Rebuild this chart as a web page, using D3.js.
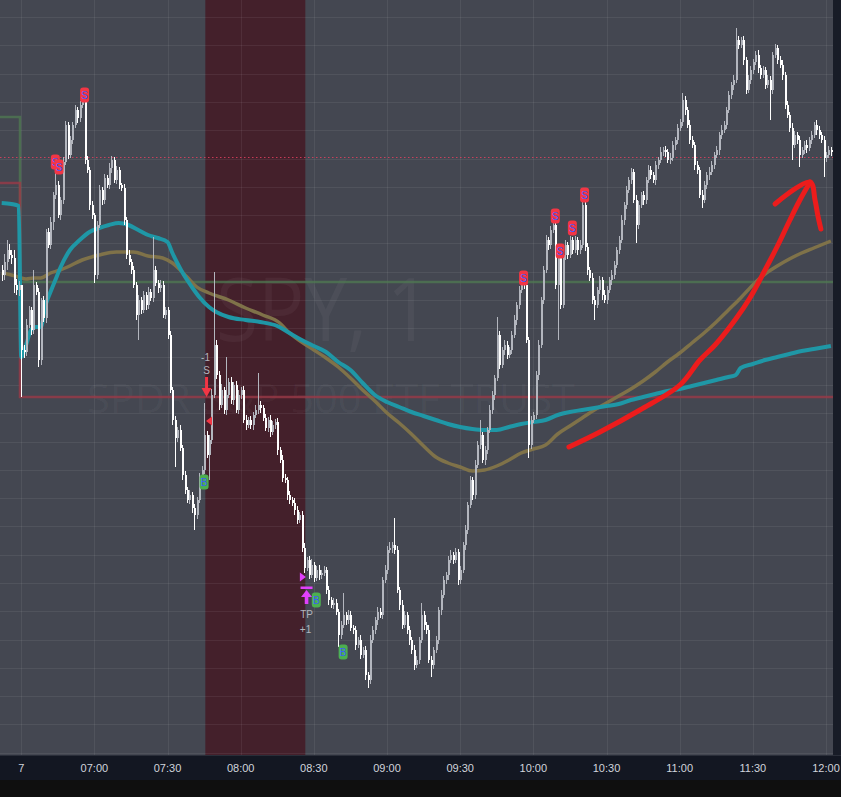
<!DOCTYPE html>
<html><head><meta charset="utf-8">
<script src="https://cdn.jsdelivr.net/npm/d3@7"></script>
<style>html,body{margin:0;padding:0;background:#0f0f0f;}svg{display:block;}</style>
</head><body><svg id="c" width="841" height="797"></svg>
<script>
// ---------- DATA (SPY, 1 minute; index 0 = 06:30 session open) ----------
const firstIndex = -8;
const firstOpen = 417.30;
const closes = [
417.25,417.38,417.50,417.45,417.42,417.15,417.10,417.15,
416.50,416.48,416.75,416.90,416.70,417.15,417.08,416.40,417.00,416.82,
417.68,417.55,417.78,418.05,418.15,417.85,418.00,418.38,418.75,418.45,
418.60,418.75,418.90,418.82,418.95,418.98,418.40,418.30,417.95,417.85,
417.25,417.75,418.10,418.00,418.22,418.15,418.32,418.40,418.20,418.30,
418.15,418.12,417.80,417.45,417.38,417.30,417.15,416.85,417.00,416.90,
417.05,416.95,417.08,417.02,417.30,417.17,417.12,417.15,416.85,416.90,
416.65,416.10,415.80,415.62,415.70,415.52,415.25,415.10,415.00,415.05,
414.92,414.85,415.00,415.22,415.30,415.65,415.45,415.60,416.05,416.55,
416.25,415.95,416.10,415.90,416.05,416.18,416.00,416.15,415.90,416.05,
416.10,415.80,415.75,415.80,415.75,415.85,415.90,415.95,415.92,415.82,
415.72,415.80,415.68,415.75,415.78,415.50,415.40,415.22,415.20,415.05,
415.00,414.97,414.90,414.80,414.85,414.52,414.32,414.40,414.25,414.35,
414.22,414.30,414.25,414.27,414.30,414.10,414.00,413.95,413.97,413.88,
413.65,413.75,413.85,413.80,413.85,413.72,413.70,413.55,413.60,413.45,
413.50,413.25,413.20,413.60,413.70,413.80,413.88,413.85,414.20,414.30,
414.50,414.52,414.55,414.50,414.10,413.95,413.75,413.85,413.70,413.60,
413.50,413.35,413.40,413.60,413.85,413.75,413.70,413.40,413.35,413.50,
413.60,413.90,414.05,414.20,414.25,414.40,414.45,414.40,414.48,414.20,
414.30,414.55,414.70,414.95,415.20,415.05,415.35,415.55,415.65,415.40,
415.50,415.70,415.90,416.05,416.22,416.65,416.35,416.50,416.55,416.45,
416.50,416.65,416.80,416.95,417.10,417.20,417.15,416.60,415.55,415.80,
415.85,416.25,416.55,417.00,417.30,417.60,417.55,417.70,417.75,417.15,
417.42,416.95,417.45,417.55,417.45,417.60,417.50,417.60,417.50,417.55,
417.95,417.53,417.30,417.22,417.00,416.95,417.10,417.20,417.05,417.00,
417.10,417.20,417.25,417.35,417.50,417.60,417.80,417.95,418.10,418.20,
418.28,418.00,417.75,417.95,418.05,418.00,418.20,418.30,418.25,418.20,
418.35,418.40,418.48,418.50,418.48,418.40,418.42,418.55,418.60,418.72,
418.78,419.00,418.90,418.75,418.60,418.55,418.35,418.30,418.05,418.00,
418.15,418.25,418.28,418.35,418.45,418.50,418.65,418.70,418.75,418.90,
419.05,419.15,419.20,419.60,419.55,419.60,419.40,419.10,419.20,419.30,
419.38,419.45,419.32,419.25,419.30,419.15,419.20,419.10,419.45,419.52,
419.40,419.35,419.25,418.95,418.85,418.72,418.55,418.65,418.60,418.45,
418.50,418.55,418.52,418.60,418.65,418.75,418.70,418.65,418.60,418.42,
418.45,418.50,418.48
];
// wick lengths beyond the body, in cents
const wickHi = [
5,8,10,6,5,8,6,4,
0,5,6,4,3,15,3,4,2,4, 3,4,5,3,18,4,3,5,4,3, 4,3,5,3,4,3,6,4,3,4, 2,4,5,3,4,3,5,4,3,4,
3,2,4,3,5,3,4,3,5,3, 4,3,5,3,33,4,3,5,4,3, 3,4,3,4,3,5,3,4,3,5, 3,4,3,5,4,32,4,5,6,73,
5,4,6,3,38,4,5,3,4,5, 3,4,5,3,4,3,5,32,4,3, 4,3,5,4,3,4,3,5,4,3, 4,3,5,4,3,4,5,3,4,6,
3,4,5,3,4,3,4,3,5,4, 3,4,22,3,5,4,3,4,3,5, 3,4,3,5,4,3,5,4,3,5, 4,6,3,27,4,3,5,4,3,4,
3,5,4,3,12,4,3,5,4,3, 4,3,5,4,3,4,5,3,4,3, 4,3,5,3,4,3,5,4,15,3, 4,3,5,4,3,18,4,3,5,4,
3,4,5,3,4,3,5,4,3,4, 3,4,5,3,4,5,3,4,7,4, 3,3,4,5,3,4,3,4,3,5, 5,3,4,3,5,4,3,4,3,5,
4,3,5,4,3,4,5,3,4,3, 4,3,5,4,3,4,3,5,4,3, 4,3,5,3,4,3,5,4,3,4, 3,7,4,3,5,4,3,4,3,5,
4,3,5,4,3,4,3,5,4,3, 4,3,5,12,4,3,4,3,5,4, 3,4,5,3,4,3,5,4,3,4, 3,4,5,3,4,3,5,4,3,4,
3,4,5,3,4,3,5,4,3,4, 3,4,3
];
const wickLo = [
6,5,8,4,6,8,5,6,
47,6,4,3,5,4,3,7,5,4, 5,3,4,8,4,3,5,4,3,4, 3,4,3,5,4,3,4,3,5,4, 8,4,3,5,4,3,4,5,3,4,
4,3,5,4,3,4,3,5,25,4, 3,5,4,3,4,3,5,4,3,4, 4,3,5,29,4,3,5,4,3,4, 5,15,4,3,5,4,3,25,4,3,
4,5,3,4,5,3,4,5,3,4, 4,3,5,3,4,5,3,4,5,3, 3,4,5,3,4,5,3,4,3,5, 4,3,5,4,3,4,5,3,4,3,
4,3,5,4,3,4,5,3,4,3, 12,4,3,5,4,3,4,5,3,4, 3,5,8,4,3,4,5,3,4,3, 4,3,5,4,3,5,4,3,4,5,
4,5,3,4,3,5,4,3,12,4, 3,4,5,3,4,5,3,4,3,5, 4,3,5,4,3,5,4,3,4,3, 5,4,3,4,5,3,4,3,5,4,
3,4,3,5,4,3,4,3,13,4, 3,4,5,3,4,3,5,4,3,4, 55,4,3,5,4,3,4,3,5,4, 3,4,5,3,4,15,3,4,5,3,
4,3,5,4,3,4,3,5,4,3, 4,3,18,4,3,5,4,3,4,3, 5,4,3,4,5,3,4,3,5,4, 3,4,5,3,4,3,5,4,3,8,
3,4,5,3,4,3,5,4,3,4, 3,4,5,3,4,3,5,4,3,4, 4,3,5,4,3,4,3,30,4,3, 4,3,5,4,3,4,15,3,4,12,
3,4,5,3,4,3,5,4,3,19, 4,3,4
];
const tickIdx = [0,30,60,90,120,150,180,210,240,270,300,330];
const tickLabels = ["7","07:00","07:30","08:00","08:30","09:00","09:30","10:00","10:30","11:00","11:30","12:00"];

// teal (session VWAP) and olive (moving average)
const vwapIdx = [-8,-4,-1,0,2,4,6,8,10,12,14,16,20,24,28,32,36,40,44,48,52,56,60,62,64,66,70,73,77,80,85,92,98,105,110,115,120,125,130,135,140,145,150,155,160,165,170,175,180,185,190,195,200,205,210,215,220,225,230,235,240,245,250,255,260,265,270,275,280,285,290,293,295,300,305,310,315,320,325,332];
const vwap = [417.97,417.96,417.94,416.43,416.55,416.70,416.73,416.73,416.95,417.08,417.20,417.32,417.50,417.60,417.68,417.72,417.75,417.77,417.75,417.70,417.65,417.62,417.58,417.47,417.37,417.28,417.13,417.03,416.93,416.88,416.83,416.80,416.78,416.74,416.67,416.60,416.54,416.48,416.38,416.30,416.17,416.05,415.98,415.93,415.88,415.84,415.80,415.76,415.73,415.71,415.70,415.70,415.73,415.76,415.78,415.80,415.85,415.88,415.90,415.92,415.94,415.96,416.00,416.03,416.06,416.09,416.11,416.14,416.17,416.20,416.23,416.25,416.32,416.36,416.40,416.43,416.46,416.49,416.51,416.54];
const maIdx = [-8,-4,-1,2,5,8,12,16,19,25,32,39,46,52,58,62,68,72,77,85,92,99,106,110,115,120,125,130,135,140,145,150,155,160,165,170,175,180,185,190,195,200,205,210,215,220,225,230,235,240,245,250,255,260,265,270,275,280,285,290,295,300,305,310,315,320,325,332];
const ma = [417.27,417.25,417.23,417.21,417.22,417.22,417.27,417.30,417.33,417.40,417.45,417.48,417.48,417.44,417.42,417.37,417.23,417.13,417.07,417.00,416.92,416.85,416.77,416.67,416.58,416.50,416.42,416.33,416.22,416.10,415.99,415.87,415.77,415.66,415.54,415.43,415.37,415.33,415.29,415.30,415.34,415.40,415.47,415.51,415.55,415.66,415.74,415.82,415.90,415.97,416.04,416.11,416.19,416.28,416.38,416.47,416.57,416.67,416.78,416.90,417.02,417.15,417.26,417.34,417.41,417.47,417.52,417.59];

// horizontal levels (previous day -> today)
const greenLevel = [418.83, 417.18];
const redLevel = [418.17, 416.03];
const dottedLevel = 418.43;
// highlighted bar range
const shadeRange = [76, 116];

// signal markers
const sellIdx = [14, 15.5, 26, 206, 219, 221, 226, 231];
const sellPos = [418.38, 418.33, 419.05, 417.22, 417.84, 417.49, 417.72, 418.05];
const buyIdx = [75, 121, 132];
const buyPos = [415.18, 414.00, 413.48];

// trade annotations
const entryIdx = 76, entryTextPos = [416.43, 416.30], entryArrow = [416.23, 416.03];
const entryTriIdx = 77, entryTriPos = 415.79;
const exitIdx = 117, exitBarPos = 414.12, exitTextPos = [413.86, 413.71];
const exitTriIdx = 115.5, exitTriPos = 414.23;

// hand-drawn red arrow (index, price)
const arrowIdx = [224.6,237.3,253.7,270.1,278.3,284.5,292.7,298.8,305.0,310.3,315.2,319.3,323.5];
const arrowPrice = [415.53,415.68,415.90,416.15,416.40,416.55,416.80,417.02,417.30,417.55,417.80,418.00,418.18];
const headIdx = [309.1,323.5,325.5,326.7,327.9];
const headPrice = [417.96,418.18,418.00,417.84,417.71];

// ---------- DRAW ----------
const W = 841, PR = 833, PB = 755, AB = 780;
const svg = d3.select('#c');
const x = d3.scaleLinear().domain([0, 330]).range([21.2, 826.0]);
const y = d3.scaleLinear().domain([412.45, 420]).range([PB, 0]);

svg.append('rect').attr('width', W).attr('height', 797).attr('fill', '#0f0f0f');
svg.append('rect').attr('width', PR).attr('height', PB).attr('fill', '#444751');
svg.append('rect').attr('x', PR).attr('width', W - PR).attr('height', PB).attr('fill', '#181c27');
svg.append('rect').attr('y', PB).attr('width', W).attr('height', AB - PB).attr('fill', '#131722');
svg.append('line').attr('x1', 0).attr('x2', W).attr('y1', PB + 0.5).attr('y2', PB + 0.5).attr('stroke', '#2a2e39');

svg.append('defs').append('clipPath').attr('id', 'clip').append('rect').attr('width', PR).attr('height', PB);
const g = svg.append('g').attr('clip-path', 'url(#clip)');

// shaded bars
g.append('rect').attr('x', x(shadeRange[0] - 0.5)).attr('y', 0)
  .attr('width', x(shadeRange[1] + 0.5) - x(shadeRange[0] - 0.5)).attr('height', PB)
  .attr('fill', '#44202b');

// grid
const gridVals = d3.range(0, 28).map(k => 419.83 - 0.283 * k);
g.selectAll('.hg').data(gridVals).enter().append('line')
  .attr('x1', 0).attr('x2', PR).attr('y1', d => Math.round(y(d)) + 0.5).attr('y2', d => Math.round(y(d)) + 0.5)
  .attr('stroke', 'rgba(255,255,255,0.065)');
g.selectAll('.vg').data(tickIdx).enter().append('line')
  .attr('y1', 0).attr('y2', PB).attr('x1', d => Math.round(x(d)) + 0.5).attr('x2', d => Math.round(x(d)) + 0.5)
  .attr('stroke', 'rgba(255,255,255,0.065)');

// watermark
g.append('text').text('SPY, 1').attr('x', 216).attr('y', 341)
  .attr('textLength', 215).attr('lengthAdjust', 'spacingAndGlyphs')
  .attr('font-family', 'Open Sans, sans-serif').attr('font-size', 88)
  .attr('fill', 'rgba(255,255,255,0.045)');
g.append('text').text('SPDR S&P 500 ETF TRUST').attr('x', 87).attr('y', 413)
  .attr('textLength', 488).attr('lengthAdjust', 'spacingAndGlyphs')
  .attr('font-family', 'Open Sans, sans-serif').attr('font-size', 41)
  .attr('fill', 'rgba(255,255,255,0.045)');

// level step lines
function stepLine(v) {
  return [[firstIndex - 1, v[0]], [-0.5, v[0]], [-0.5, v[1]], [335, v[1]]];
}
const ln = d3.line().x(d => x(d[0])).y(d => y(d[1]));
g.append('path').attr('d', ln(stepLine(greenLevel))).attr('fill', 'none')
  .attr('stroke', '#4f7a52').attr('stroke-opacity', 0.75).attr('stroke-width', 2.5);
g.append('path').attr('d', ln(stepLine(redLevel))).attr('fill', 'none')
  .attr('stroke', '#9a3a47').attr('stroke-opacity', 0.8).attr('stroke-width', 2.5);
g.append('line').attr('x1', 0).attr('x2', PR)
  .attr('y1', Math.round(y(dottedLevel)) + 0.5).attr('y2', Math.round(y(dottedLevel)) + 0.5)
  .attr('stroke', '#e0405f').attr('stroke-opacity', 0.85).attr('stroke-width', 1).attr('stroke-dasharray', '1.5,2.5');

// indicator lines
const curve = d3.line().x(d => x(d[0])).y(d => y(d[1])).curve(d3.curveMonotoneX);
g.append('path').attr('d', curve(maIdx.map((d, i) => [d, ma[i]]))).attr('fill', 'none')
  .attr('stroke', '#7f7249').attr('stroke-width', 3.5).attr('stroke-linejoin', 'round');
g.append('path').attr('d', curve(vwapIdx.map((d, i) => [d, vwap[i]]))).attr('fill', 'none')
  .attr('stroke', '#1f97a6').attr('stroke-width', 4).attr('stroke-linejoin', 'round');

// candles
const candles = closes.map((c, k) => {
  const o = k === 0 ? firstOpen : closes[k - 1];
  return { i: firstIndex + k, o, c, h: Math.max(o, c) + wickHi[k] / 100, l: Math.min(o, c) - wickLo[k] / 100 };
});
const upCol = '#b3b6be', dnCol = '#ffffff';
const cg = g.append('g').attr('shape-rendering', 'crispEdges');
cg.selectAll('.w').data(candles).enter().append('rect')
  .attr('x', d => Math.round(x(d.i)))
  .attr('width', 1)
  .attr('y', d => y(d.h)).attr('height', d => y(d.l) - y(d.h))
  .attr('fill', d => d.c < d.o ? dnCol : upCol);
cg.selectAll('.b').data(candles).enter().append('rect')
  .attr('x', d => Math.round(x(d.i)) - 0.5)
  .attr('width', 2.2)
  .attr('y', d => y(Math.max(d.o, d.c)))
  .attr('height', d => Math.max(1.2, Math.abs(y(d.o) - y(d.c))))
  .attr('fill', d => d.c < d.o ? dnCol : upCol);

// markers
function marker(idx, pos, fill, label) {
  const mg = g.append('g');
  idx.forEach((d, k) => {
    mg.append('rect').attr('x', x(d) - 4.5).attr('y', y(pos[k]) - 7.5).attr('width', 9).attr('height', 15)
      .attr('rx', 3).attr('fill', fill);
    mg.append('text').text(label).attr('x', x(d)).attr('y', y(pos[k]) + 3.5)
      .attr('text-anchor', 'middle').attr('font-family', 'Liberation Sans, sans-serif')
      .attr('font-size', 10).attr('fill', '#3d5afe');
  });
}
marker(sellIdx, sellPos, '#f23645', 'S');
marker(buyIdx, buyPos, '#4caf50', 'B');

// trade annotations
const ann = g.append('g').attr('font-family', 'Liberation Sans, sans-serif').attr('font-size', 10).attr('fill', '#b2b5be').attr('text-anchor', 'middle');
const ex = x(entryIdx);
ann.append('text').text('-1').attr('x', ex - 1).attr('y', y(entryTextPos[0]) + 3.5);
ann.append('text').text('S').attr('x', ex).attr('y', y(entryTextPos[1]) + 3.5);
const a0 = y(entryArrow[0]), a1 = y(entryArrow[1]);
g.append('path').attr('d', `M${ex - 1.5},${a0}H${ex + 1.5}V${a1 - 9}H${ex + 5}L${ex},${a1}L${ex - 5},${a1 - 9}H${ex - 1.5}Z`)
  .attr('fill', '#f23645');
const tx = x(entryTriIdx), ty = y(entryTriPos);
g.append('path').attr('d', `M${tx - 3},${ty}L${tx + 3},${ty - 4.5}L${tx + 3},${ty + 4.5}Z`).attr('fill', '#f23645');

const px = x(exitIdx), pb = y(exitBarPos);
g.append('rect').attr('x', px - 6).attr('y', pb - 1.5).attr('width', 12).attr('height', 2.5).attr('fill', '#e040fb');
g.append('path').attr('d', `M${px},${pb + 2}L${px + 5.5},${pb + 9}H${px + 1.8}V${pb + 16}H${px - 1.8}V${pb + 9}H${px - 5.5}Z`).attr('fill', '#e040fb');
const mx = x(exitTriIdx), my = y(exitTriPos);
g.append('path').attr('d', `M${mx + 3},${my}L${mx - 3},${my - 4.5}L${mx - 3},${my + 4.5}Z`).attr('fill', '#e040fb');
ann.append('text').text('TP').attr('x', px).attr('y', y(exitTextPos[0]) + 3.5);
ann.append('text').text('+1').attr('x', px - 1).attr('y', y(exitTextPos[1]) + 3.5);

// hand-drawn arrow
const hl = d3.line().x(d => x(d[0])).y(d => y(d[1])).curve(d3.curveCatmullRom);
g.append('path').attr('d', hl(arrowIdx.map((d, i) => [d, arrowPrice[i]]))).attr('fill', 'none')
  .attr('stroke', '#ec1c1c').attr('stroke-width', 5).attr('stroke-linecap', 'round').attr('stroke-linejoin', 'round');
g.append('path').attr('d', hl(headIdx.map((d, i) => [d, headPrice[i]]))).attr('fill', 'none')
  .attr('stroke', '#ec1c1c').attr('stroke-width', 5).attr('stroke-linecap', 'round').attr('stroke-linejoin', 'round');

// time axis labels
svg.append('g').selectAll('text').data(tickIdx).enter().append('text')
  .attr('x', d => x(d)).attr('y', 772).attr('text-anchor', 'middle')
  .attr('font-family', 'Liberation Sans, sans-serif').attr('font-size', 11).attr('fill', '#d1d4dc')
  .text((d, i) => tickLabels[i]);
</script>
</body></html>
